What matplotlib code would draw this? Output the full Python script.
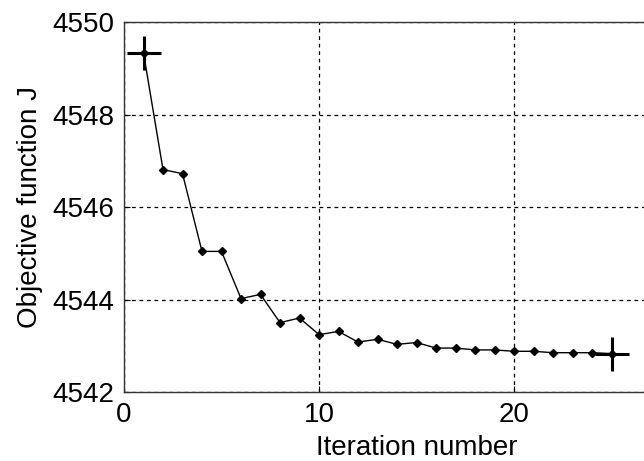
import matplotlib
matplotlib.use("Agg")
import matplotlib.pyplot as plt

iterations = list(range(1, 26))
objective = [4549.33, 4546.81, 4546.72, 4545.04, 4545.04, 4544.02, 4544.11,
             4543.50, 4543.60, 4543.24, 4543.31, 4543.08, 4543.14, 4543.03,
             4543.07, 4542.95, 4542.95, 4542.91, 4542.91, 4542.88, 4542.88,
             4542.85, 4542.85, 4542.85, 4542.83]
xticks = [0, 10, 20]
yticks = [4542, 4544, 4546, 4548, 4550]

plt.rcParams['font.family'] = ['Liberation Sans', 'DejaVu Sans']

fig = plt.figure(figsize=(6.44, 4.61), dpi=100)
ax = fig.add_axes([124/644, 69/461, 585/644, 370/461])

ax.plot(iterations, objective, color='black', lw=1.0, marker='D', markersize=4,
        markerfacecolor='black', markeredgecolor='black', zorder=3)
ax.plot([iterations[0], iterations[-1]], [objective[0], objective[-1]], linestyle='none',
        marker='+', markersize=24, markeredgewidth=2.2, color='black', zorder=4)

ax.set_xlim(0, 30)
ax.set_ylim(4542, 4550)
ax.set_xticks(xticks)
ax.set_yticks(yticks)
ax.set_xticklabels([str(t) for t in xticks])
ax.set_yticklabels([str(t) for t in yticks])
ax.grid(True, color='black', linestyle=(0, (3, 3)), linewidth=0.9)
ax.axvline(30, color='black', linestyle=(0, (3, 3)), linewidth=0.9)
ax.set_axisbelow(True)
ax.tick_params(direction='in', length=4, labelsize=20, width=0.8, pad=7)
for s in ax.spines.values():
    s.set_linewidth(1.0)
    s.set_color('#333333')

ax.set_xlabel('Iteration number', fontsize=20, labelpad=5)
ax.set_ylabel('Objective function J', fontsize=20, labelpad=7)

fig.savefig('out.png', dpi=100)
